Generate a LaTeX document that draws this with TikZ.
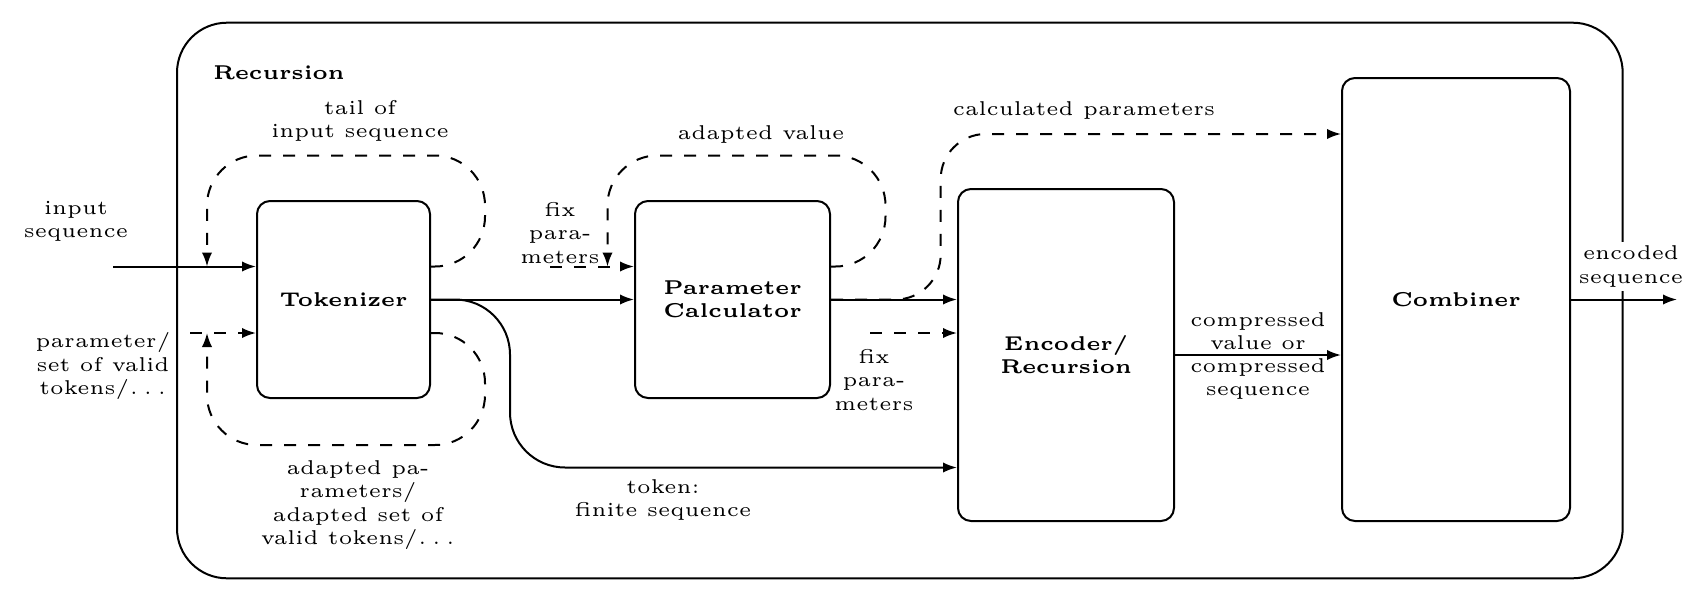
\documentclass[tikz,border=0pt]{standalone}
\usetikzlibrary{arrows.meta}

\begin{document}
\begin{tikzpicture}[x=0.25pt, y=-0.25pt, line width=0.5pt,
    >={Latex[length=3.5pt,width=2.6pt]},
    font=\fontsize{5}{5.83}\selectfont,
    block/.style={draw, rounded corners=3.25pt, align=center, inner sep=0pt, font=\fontsize{5}{5.83}\selectfont\bfseries},
    lbl/.style={align=center, inner sep=0pt},
    fb/.style={->, dashed, rounded corners=12.5pt}]
                \useasboundingbox (0,0) rectangle (1705,611);
                \draw[rounded corners=12.5pt] (177,22.7) rectangle (1622.7,578.3);
                \node[anchor=west, inner sep=0pt, font=\fontsize{5}{5.83}\selectfont\bfseries] (rec) at (212,73) {Recursion};
                % blocks
                \node[block, minimum width=43.25pt, minimum height=49.25pt] (tok) at (343.5,299.5) {Tokenizer};
                \node[block, minimum width=48.75pt, minimum height=49.25pt] (calc) at (732.5,299.5) {Parameter\\Calculator};
                \node[block, minimum width=54pt, minimum height=83pt] (enc) at (1066,355) {Encoder/\\Recursion};
                \node[block, minimum width=57pt, minimum height=110.75pt] (comb) at (1456,299.5) {Combiner};
                % free ends and bends
                \coordinate (in) at (113,266.5);
                \coordinate (par) at (190,333);
                \coordinate (fixa) at (550,266.5);
                \coordinate (fixb) at (870,333);
                \coordinate (tk) at (510,467.5);
                \coordinate (cp) at (940.7,134);
                \coordinate (out) at (1677,299.5);
                \draw[->] (in) -- (in -| tok.west);
                \draw[->, dashed] (par) -- (par -| tok.west);
                \draw[->] (tok.east) -- (calc.west);
                \draw[->] (calc.east) -- (calc.east -| enc.west);
                \draw[->, rounded corners=13.75pt] (tok.east) -- (tk |- tok.east) -- (tk) -- (tk -| enc.west);
                \draw[->, dashed] (fixa) -- (fixa -| calc.west);
                \draw[->, dashed] (fixb) -- (fixb -| enc.west);
                \draw[->, dashed, rounded corners=11.25pt] (calc.east) -- (cp |- calc.east) -- (cp) -- (cp -| comb.west);
                \draw[->] (enc.east) -- (enc.east -| comb.west);
                \draw[->] (comb.east) -- (out);
                % feedback loops
                \draw[fb] (in -| tok.east) -- (485,266.5) -- (485,155.5) -- (207,155.5) -- (207,266.5);
                \draw[fb] (par -| tok.east) -- (485,333) -- (485,445) -- (207,445) -- (207,333);
                \draw[fb] (fixa -| calc.east) -- (885.5,266.5) -- (885.5,155.5) -- (607.5,155.5) -- (607.5,266.5);
                % labels
                \node[lbl] (insq) at (76,221) {input\\sequence};
                \node[lbl] (parl) at (103,366) {parameter/\\set of valid\\tokens/$\ldots$};
                \node[lbl] (tail) at (360,121) {tail of\\input sequence};
                \node[lbl] (adpt) at (358,505) {adapted pa-\\rameters/\\adapted set of\\valid tokens/$\ldots$};
                \node[lbl] (fixal) at (560,233) {fix\\para-\\meters};
                \node[lbl] (adval) at (761,134) {adapted value};
                \node[lbl] (calcp) at (1084,110) {calculated parameters};
                \node[lbl] (fixbl) at (874,380) {fix\\para-\\meters};
                \node[lbl] (tokl) at (663,500) {token:\\finite sequence};
                \node[lbl] (cmpr) at (1258,356) {compressed\\value or\\compressed\\sequence};
                \node[lbl, fill=white, inner sep=1pt] (encs) at (1631,266.5) {encoded\\sequence};
                \end{tikzpicture}
\end{document}
